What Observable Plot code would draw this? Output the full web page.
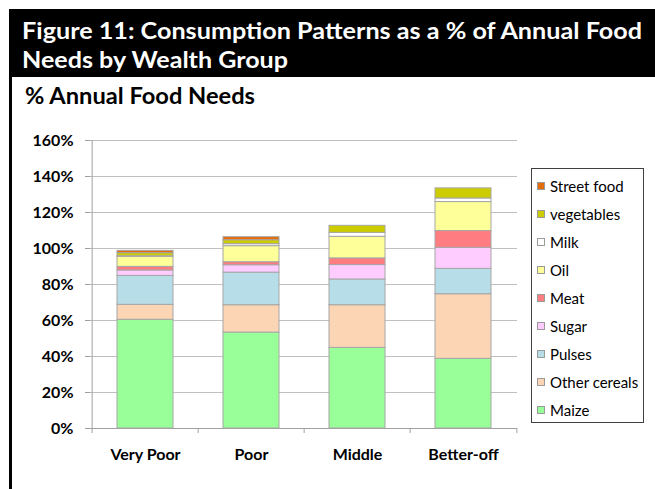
<!DOCTYPE html>
<html>
<head>
<meta charset="utf-8">
<script src="https://cdn.jsdelivr.net/npm/d3@7"></script>
<script src="https://cdn.jsdelivr.net/npm/@observablehq/plot@0.6"></script>
<style>
  body { margin: 0; background: #fff; }
  #wrap { position: relative; width: 655px; height: 489px; overflow: hidden; background: #fff; font-family: Lato, "Open Sans", sans-serif; }
  #head { position: absolute; left: 0; top: 0; }
  #vline { position: absolute; left: 9px; top: 77px; width: 3px; height: 412px; background: #000; }
  #chart { position: absolute; left: 0; top: 120px; }
  #legend { position: absolute; left: 531px; top: 168px; width: 113px; height: 255px; border: 1px solid #404040; box-sizing: border-box; background: #fff; }
  .item { position: absolute; left: 0; height: 20px; display: flex; align-items: center; font-size: 15px; color: #000; white-space: nowrap; }
  .sw { width: 8px; height: 8px; border: 1px solid #9a9a9a; box-sizing: border-box; margin-left: 5px; margin-right: 5px; }
</style>
</head>
<body>
<div id="wrap">
  <svg id="head" width="655" height="120">
    <rect x="9" y="9" width="646" height="68" fill="#000"></rect>
    <text x="22" y="39" fill="#fff" font-family="Lato, sans-serif" font-weight="700" font-size="23" textLength="620" lengthAdjust="spacingAndGlyphs">Figure 11: Consumption Patterns as a % of Annual Food</text>
    <text x="22" y="68" fill="#fff" font-family="Lato, sans-serif" font-weight="700" font-size="23" textLength="266" lengthAdjust="spacingAndGlyphs">Needs by Wealth Group</text>
    <text x="25" y="104" fill="#000" font-family="Lato, sans-serif" font-weight="700" font-size="23" textLength="230" lengthAdjust="spacingAndGlyphs">% Annual Food Needs</text>
  </svg>
  <div id="vline"></div>
  <div id="chart"></div>
  <div id="legend"></div>
</div>
<script>
const categories = ["Very Poor", "Poor", "Middle", "Better-off"];
const series = ["Maize", "Other cereals", "Pulses", "Sugar", "Meat", "Oil", "Milk", "vegetables", "Street food"];
const colors = ["#99FF99", "#FCD5B5", "#B7DEE8", "#FFCCFF", "#FF7C80", "#FFFF99", "#FFFFFF", "#CCCC00", "#E46C0A"];

const maize        = [60.4, 53.3, 44.8, 38.7];
const otherCereals = [8.3, 15.2, 23.7, 35.9];
const pulses       = [16.1, 18.1, 14.3, 14.1];
const sugar        = [3.0, 4.1, 8.0, 11.7];
const meat         = [2.0, 1.7, 3.7, 9.3];
const oil          = [5.6, 8.9, 12.0, 16.1];
const milk         = [0.3, 1.1, 2.2, 2.0];
const vegetables   = [1.7, 2.2, 3.9, 5.6];
const streetFood   = [1.3, 1.7, 0, 0];

const yTicks = [0, 20, 40, 60, 80, 100, 120, 140, 160];

const values = [maize, otherCereals, pulses, sugar, meat, oil, milk, vegetables, streetFood];
const data = series.flatMap((s, i) =>
  categories.map((c, j) => ({category: c, series: s, value: values[i][j]}))
).filter(d => d.value > 0);

const left = 90, right = 517;
const step = (right - left) / categories.length;
const axisGray = "#A0A0A0";

const plot = Plot.plot({
  width: 655,
  height: 369,
  marginLeft: left,
  marginRight: 655 - right,
  marginTop: 20,
  marginBottom: 61,
  style: {fontFamily: "Lato, 'Open Sans', sans-serif", background: "transparent", color: "#000"},
  x: {domain: categories, paddingInner: 0.475, paddingOuter: 0.2375, label: null},
  y: {domain: [0, 160], label: null},
  color: {domain: series, range: colors},
  marks: [
    Plot.gridY(yTicks, {stroke: "#C0C0C0", strokeOpacity: 1}),
    Plot.ruleX([categories[0]], {x: d => d, dx: -step / 2, y1: 0, y2: 160, stroke: axisGray}),
    Plot.axisY(yTicks, {tickSize: 5, tickPadding: 12, tickFormat: d => d + "%", fontSize: 16, fontWeight: "bold", stroke: axisGray, fill: "#000", label: null}),
    Plot.axisX({tickSize: 0, tickPadding: 20, fontSize: 16, fontWeight: "bold", fill: "#000", label: null}),
    Plot.axisX(categories, {tickSize: 5, tickFormat: () => "", dx: -step / 2, stroke: axisGray, label: null}),
    Plot.axisX([categories[categories.length - 1]], {tickSize: 5, tickFormat: () => "", dx: step / 2, stroke: axisGray, label: null}),
    Plot.ruleY([0], {stroke: axisGray}),
    Plot.barY(data, {x: "category", y: "value", fill: "series", order: series, stroke: "#A6A6A6", strokeWidth: 1})
  ]
});
document.getElementById("chart").appendChild(plot);

// legend
const legend = d3.select("#legend");
const legendItems = series.map((s, i) => ({name: s, color: colors[i]})).reverse();
legendItems.forEach((d, i) => {
  const item = legend.append("div").attr("class", "item").style("top", (7 + i * 28) + "px");
  item.append("div").attr("class", "sw").style("background", d.color);
  item.append("span").text(d.name);
});
</script>
</body>
</html>
